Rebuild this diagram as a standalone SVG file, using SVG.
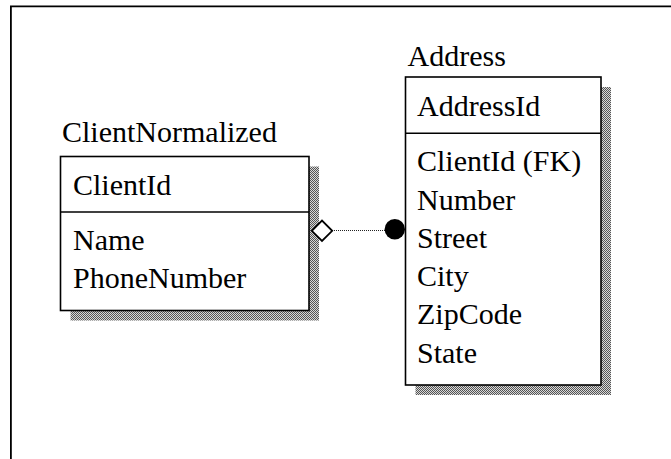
<svg xmlns="http://www.w3.org/2000/svg" width="671" height="459" viewBox="0 0 671 459">
  <style>
    text { font-family: "Liberation Serif", "Times New Roman", serif; font-size: 30px; fill: #000; }
    .box { fill: #fff; stroke: #000; stroke-width: 1.6; }
    .divider { stroke: #000; stroke-width: 1.6; }
    .shadow { fill: url(#halftone); }
    .frame { stroke: #000; stroke-width: 1.8; fill: none; }
    .link { stroke: #222; stroke-width: 1; stroke-dasharray: 1 1; fill: none; }
  </style>
  <defs>
    <!-- fine checkerboard used for the drop shadows -->
    <pattern id="halftone" patternUnits="userSpaceOnUse" width="2" height="2">
      <rect width="2" height="2" fill="#d8d8d8"/>
      <rect width="1" height="1" fill="#555"/>
      <rect x="1" y="1" width="1" height="1" fill="#555"/>
    </pattern>
  </defs>

  <rect width="671" height="459" fill="#fff"/>

  <!-- page frame (top and left edges) -->
  <path class="frame" d="M10.9 459 V6.4 H671"/>

  <!-- ClientNormalized entity -->
  <g id="node-clientnormalized">
    <text x="62" y="142">ClientNormalized</text>
    <rect class="shadow" x="70.5" y="166.5" width="248.5" height="154"/>
    <rect class="box" x="60.5" y="156.5" width="248.5" height="154"/>
    <line class="divider" x1="60.5" y1="212" x2="309" y2="212"/>
    <text x="73" y="195">ClientId</text>
    <text x="73" y="250">Name</text>
    <text x="73" y="288">PhoneNumber</text>
  </g>

  <!-- Address entity -->
  <g id="node-address">
    <text x="407.5" y="66">Address</text>
    <rect class="shadow" x="415.5" y="87" width="195.5" height="308"/>
    <rect class="box" x="405.5" y="77" width="195.5" height="308"/>
    <line class="divider" x1="405.5" y1="133.3" x2="601" y2="133.3"/>
    <text x="417" y="116">AddressId</text>
    <text x="417" y="171">ClientId (FK)</text>
    <text x="417" y="209.5">Number</text>
    <text x="417" y="247.5">Street</text>
    <text x="417" y="286">City</text>
    <text x="417" y="324">ZipCode</text>
    <text x="417" y="362.5">State</text>
  </g>

  <!-- relationship: ClientNormalized (diamond end) to Address (dot end) -->
  <g id="connectors">
    <line class="link" x1="332" y1="230.5" x2="385" y2="230.5"/>
    <path d="M311.8 230.8 L322 220.6 L332.2 230.8 L322 241 Z" fill="#fff" stroke="#000" stroke-width="1.8"/>
    <circle cx="394.8" cy="229.2" r="10.2" fill="#000"/>
  </g>
</svg>
